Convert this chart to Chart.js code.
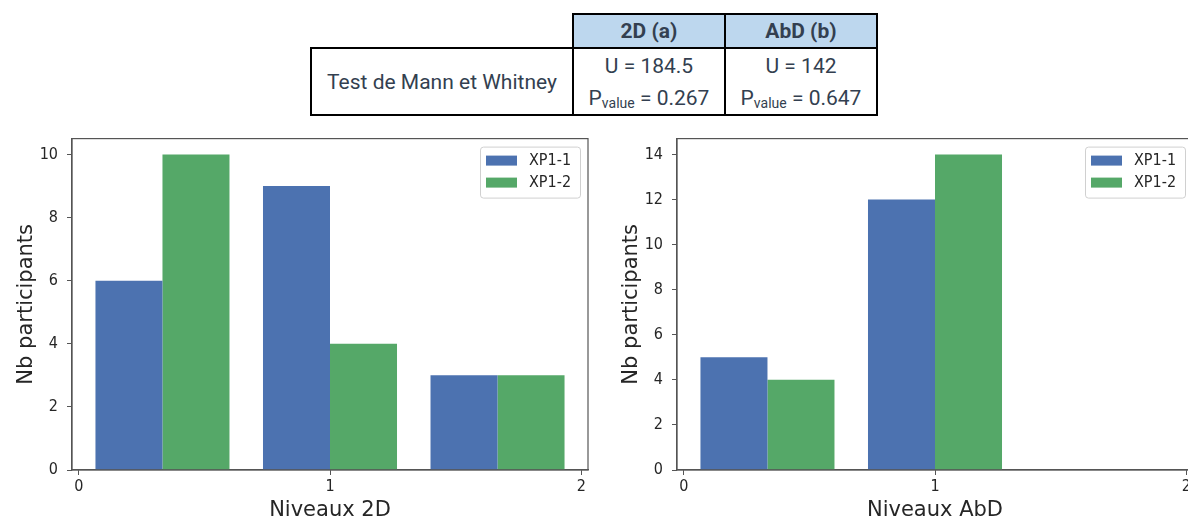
<!DOCTYPE html>
<html>
<head>
<meta charset="utf-8">
<script src="https://cdn.jsdelivr.net/npm/chart.js@4.4.0/dist/chart.umd.min.js"></script>
<style>
  body { margin: 0; width: 1188px; height: 521px; overflow: hidden; background: #fff; position: relative; }
  table.stats {
    position: absolute; left: 310px; top: 13px;
    border-collapse: collapse;
    font-family: Roboto, sans-serif; font-size: 21px; color: #333f50;
  }
  table.stats td { border: 2px solid #000; text-align: center; padding: 0; }
  table.stats td.empty { border: none; }
  table.stats tr.head td { height: 32px; background: #bdd7ee; font-weight: bold; }
  table.stats tr.head td.empty { background: none; }
  table.stats td.name { width: 260px; height: 65px; }
  table.stats td.val { width: 150px; line-height: 32px; }
  table.stats sub { font-size: 14px; vertical-align: -3px; line-height: 0; }
  .box { position: absolute; top: 120px; width: 600px; height: 401px; }
  #left { left: 0; }
  #right { left: 605px; }
</style>
</head>
<body>
<table class="stats">
  <tr class="head"><td class="empty"></td><td>2D (a)</td><td>AbD (b)</td></tr>
  <tr>
    <td class="name">Test de Mann et Whitney</td>
    <td class="val">U = 184.5<br>P<sub>value</sub> = 0.267</td>
    <td class="val">U = 142<br>P<sub>value</sub> = 0.647</td>
  </tr>
</table>
<div class="box" id="left"><canvas id="chart2D"></canvas></div>
<div class="box" id="right"><canvas id="chartAbD"></canvas></div>
<script>
// histogram bins over levels 0..2 (3 bins)
const binCenters = [1 / 3, 1, 5 / 3];
const levelTicks = [0, 1, 2];
const seriesNames = ["XP1-1", "XP1-2"];
const seriesColors = ["#4c72b0", "#55a868"];

const xp11_2D = [6, 9, 3];
const xp12_2D = [10, 4, 3];
const yTicks2D = [0, 2, 4, 6, 8, 10];

const xp11_AbD = [5, 12, 0];
const xp12_AbD = [4, 14, 0];
const yTicksAbD = [0, 2, 4, 6, 8, 10, 12, 14];

const axisColor = "#555";
const textColor = "#262626";

// frame on all four sides, like matplotlib spines
const framePlugin = {
  id: "frame",
  afterDatasetsDraw(chart) {
    const a = chart.chartArea, ctx = chart.ctx;
    ctx.save();
    ctx.strokeStyle = axisColor;
    ctx.lineWidth = 1.2;
    ctx.strokeRect(a.left, a.top, a.right - a.left, a.bottom - a.top);
    ctx.restore();
  }
};

// legend box in the top right corner of the plot
const insideLegend = {
  id: "insideLegend",
  afterDraw(chart) {
    const a = chart.chartArea, ctx = chart.ctx;
    const w = 100, h = 51;
    const x = a.right - 8 - w, y = a.top + 8;
    ctx.save();
    ctx.fillStyle = "rgba(255,255,255,0.8)";
    ctx.strokeStyle = "#d0d0d0";
    ctx.lineWidth = 1;
    ctx.beginPath();
    ctx.roundRect(x + 0.5, y + 0.5, w, h, 3);
    ctx.fill();
    ctx.stroke();
    ctx.font = "16px 'DejaVu Sans Condensed', 'DejaVu Sans'";
    ctx.textBaseline = "middle";
    chart.data.datasets.forEach((ds, i) => {
      const cy = y + 14 + i * 22;
      ctx.fillStyle = ds.backgroundColor;
      ctx.fillRect(x + 6, cy - 5, 31, 10);
      ctx.fillStyle = textColor;
      ctx.fillText(ds.label, x + 49, cy);
    });
    ctx.restore();
  }
};

function makeChart(id, s1, s2, yMax, yTicks, xTitle) {
  new Chart(document.getElementById(id), {
    type: "bar",
    data: {
      datasets: [
        { label: seriesNames[0], data: binCenters.map((c, i) => ({ x: c, y: s1[i] })), backgroundColor: seriesColors[0] },
        { label: seriesNames[1], data: binCenters.map((c, i) => ({ x: c, y: s2[i] })), backgroundColor: seriesColors[1] },
      ],
    },
    options: {
      responsive: true,
      maintainAspectRatio: false,
      animation: false,
      categoryPercentage: 0.8,
      barPercentage: 1.0,
      layout: { padding: { top: 14, right: 12, left: 0, bottom: 0 } },
      plugins: {
        legend: { display: false },
        tooltip: { enabled: false },
      },
      scales: {
        x: {
          type: "linear",
          offset: false,
          min: -0.0267,
          max: 2.0267,
          afterBuildTicks: (s) => { s.ticks = levelTicks.map((v) => ({ value: v })); },
          afterFit: (s) => { s.height = 51; },
          grid: { offset: false, drawOnChartArea: false, drawTicks: true, tickLength: 5, color: axisColor },
          border: { display: true, color: axisColor, width: 1.2 },
          ticks: {
            padding: 2, maxRotation: 0, color: textColor,
            font: { family: "'DejaVu Sans Condensed', 'DejaVu Sans'", size: 16 },
          },
          title: {
            display: true, text: xTitle, color: textColor,
            font: { family: "'DejaVu Sans'", size: 21, lineHeight: 1 },
            padding: { top: 0, bottom: 0 },
          },
        },
        y: {
          min: 0,
          max: yMax,
          afterBuildTicks: (s) => { s.ticks = yTicks.map((v) => ({ value: v })); },
          afterFit: (s) => { s.width = 72; },
          grid: { drawOnChartArea: false, drawTicks: true, tickLength: 5, color: axisColor },
          border: { display: true, color: axisColor, width: 1.2 },
          ticks: {
            padding: 9, color: textColor,
            font: { family: "'DejaVu Sans Condensed', 'DejaVu Sans'", size: 16 },
          },
          title: {
            display: true, text: "Nb participants", color: textColor,
            font: { family: "'DejaVu Sans'", size: 21, lineHeight: 1 },
            padding: { top: 16, bottom: 0 },
          },
        },
      },
    },
    plugins: [framePlugin, insideLegend],
  });
}

makeChart("chart2D", xp11_2D, xp12_2D, 10.5, yTicks2D, "Niveaux 2D");
makeChart("chartAbD", xp11_AbD, xp12_AbD, 14.7, yTicksAbD, "Niveaux AbD");
</script>
</body>
</html>
